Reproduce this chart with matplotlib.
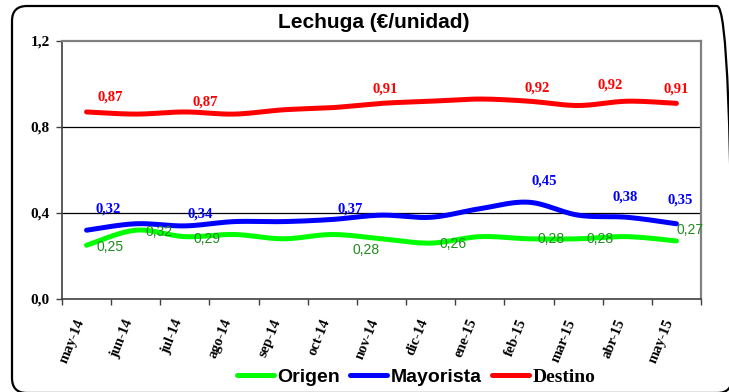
import numpy as np
import matplotlib
matplotlib.use("Agg")
import matplotlib.pyplot as plt
from matplotlib.lines import Line2D
from matplotlib.patches import FancyBboxPatch
from matplotlib.transforms import IdentityTransform

meses = ["may-14", "jun-14", "jul-14", "ago-14", "sep-14", "oct-14", "nov-14",
         "dic-14", "ene-15", "feb-15", "mar-15", "abr-15", "may-15"]
origen = [0.25, 0.32, 0.29, 0.30, 0.28, 0.30, 0.28, 0.26, 0.29, 0.28, 0.28, 0.29, 0.27]
mayorista = [0.32, 0.35, 0.34, 0.36, 0.36, 0.37, 0.39, 0.38, 0.42, 0.45, 0.39, 0.38, 0.35]
destino = [0.87, 0.86, 0.87, 0.86, 0.88, 0.89, 0.91, 0.92, 0.93, 0.92, 0.90, 0.92, 0.91]

# meses con etiqueta de valor en cada serie
etiq_origen = [0, 1, 2, 6, 7, 9, 10, 12]
etiq_mayorista = [0, 2, 5, 9, 11, 12]
etiq_destino = [0, 2, 6, 9, 11, 12]

# desplazamiento de cada etiqueta (pixeles)
desp_origen = [(23, -2), (23, -2), (22, -2), (-15, -11), (22, -1), (22, 0), (22, 0), (14, 11)]
desp_mayorista = [(22, 21), (15, 12), (18, 10), (15, 21), (-2, 20), (4, 24)]
desp_destino = [(24, 15), (20, 10), (4, 14), (8, 13), (-17, 16), (0, 14)]


def suavizar(y, n=25):
    # curva tipo Excel: bezier con tangentes de Catmull-Rom
    p = np.column_stack([np.arange(len(y), dtype=float), np.asarray(y, float)])
    t = np.linspace(0, 1, n)[:, None]
    partes = []
    for i in range(len(p) - 1):
        a, b = p[i], p[i + 1]
        c1 = a + (p[i + 1] - p[max(i - 1, 0)]) / 6
        c2 = b - (p[min(i + 2, len(p) - 1)] - p[i]) / 6
        partes.append((1 - t) ** 3 * a + 3 * (1 - t) ** 2 * t * c1
                      + 3 * (1 - t) * t ** 2 * c2 + t ** 3 * b)
    c = np.vstack(partes)
    return c[:, 0], c[:, 1]


fig = plt.figure(figsize=(7.29, 3.92), dpi=100)
ax = fig.add_axes([62 / 729, 1 - 299 / 392, 639 / 729, 258 / 392])

# marco redondeado exterior (se sale un poco por la derecha y abajo)
marco = FancyBboxPatch((12, -1), 720, 387, boxstyle="round,pad=0,rounding_size=15",
                       transform=IdentityTransform(), fill=False, ec="black", lw=1.6)
fig.patches.append(marco)

for yv in (0.4, 0.8):
    ax.axhline(yv, color="black", lw=0.9, zorder=1)

series = [(origen, "#00FF00"), (mayorista, "#0000FF"), (destino, "#FF0000")]
for vals, col in series:
    xs, ys = suavizar(vals)
    ax.plot(xs, ys, color=col, lw=3.6, solid_capstyle="round", zorder=3)

fmt = lambda v: f"{v:.2f}".replace(".", ",")

for i, (dx, dy) in zip(etiq_origen, desp_origen):
    ax.annotate(fmt(origen[i]), (i, origen[i]), xytext=(dx, dy), textcoords="offset pixels",
                ha="center", va="center", color="#1E8C1E", fontsize=10,
                family=["Liberation Sans Narrow", "Liberation Sans"], zorder=4)
for i, (dx, dy) in zip(etiq_mayorista, desp_mayorista):
    ax.annotate(fmt(mayorista[i]), (i, mayorista[i]), xytext=(dx, dy), textcoords="offset pixels",
                ha="center", va="center", color="#0000FF", fontsize=10.5,
                family="Liberation Serif", weight="bold", zorder=4)
for i, (dx, dy) in zip(etiq_destino, desp_destino):
    ax.annotate(fmt(destino[i]), (i, destino[i]), xytext=(dx, dy), textcoords="offset pixels",
                ha="center", va="center", color="#FF0000", fontsize=10.5,
                family="Liberation Serif", weight="bold", zorder=4)

ax.set_xlim(-0.5, len(meses) - 0.5)
ax.set_ylim(0, 1.2)

ax.set_xticks(np.arange(-0.5, len(meses), 1))
ax.set_xticklabels([])
ax.set_xticks(np.arange(len(meses)), minor=True)
ax.set_xticklabels(meses, minor=True, rotation=68, ha="right",
                   family="Liberation Serif", weight="bold", fontsize=10.5)
ax.tick_params(axis="x", which="major", length=4, width=1, color="#404040")
ax.tick_params(axis="x", which="minor", length=0, pad=13)

ax.set_yticks([0, 0.4, 0.8, 1.2])
ax.set_yticklabels(["0,0", "0,4", "0,8", "1,2"], family="Liberation Serif",
                   weight="bold", fontsize=11)
ax.tick_params(axis="y", length=4, width=1, pad=5, color="#404040")

ax.spines["left"].set_color("#404040")
ax.spines["bottom"].set_color("#404040")
ax.spines["left"].set_linewidth(1.2)
ax.spines["bottom"].set_linewidth(1.2)
for s in ("top", "right"):
    ax.spines[s].set_color("#808080")
    ax.spines[s].set_linewidth(1.6)

fig.text(374 / 729, 1 - 23 / 392, "Lechuga (€/unidad)", ha="center", va="center",
         family="Liberation Sans", weight="bold", fontsize=15)

manijas = [Line2D([], [], color=c, lw=3.6, solid_capstyle="round") for _, c in series]
leg = fig.legend(manijas, ["Origen", "Mayorista", "Destino"], loc="center",
                 bbox_to_anchor=(416 / 729, 1 - 377 / 392), ncol=3, frameon=False,
                 prop=dict(family="Liberation Sans", weight="bold", size=14),
                 handlelength=1.9, handletextpad=0.2, columnspacing=0.5,
                 borderpad=0, borderaxespad=0)
leg.get_texts()[2].set_fontfamily("Liberation Serif")

fig.savefig("out.png", dpi=100)
